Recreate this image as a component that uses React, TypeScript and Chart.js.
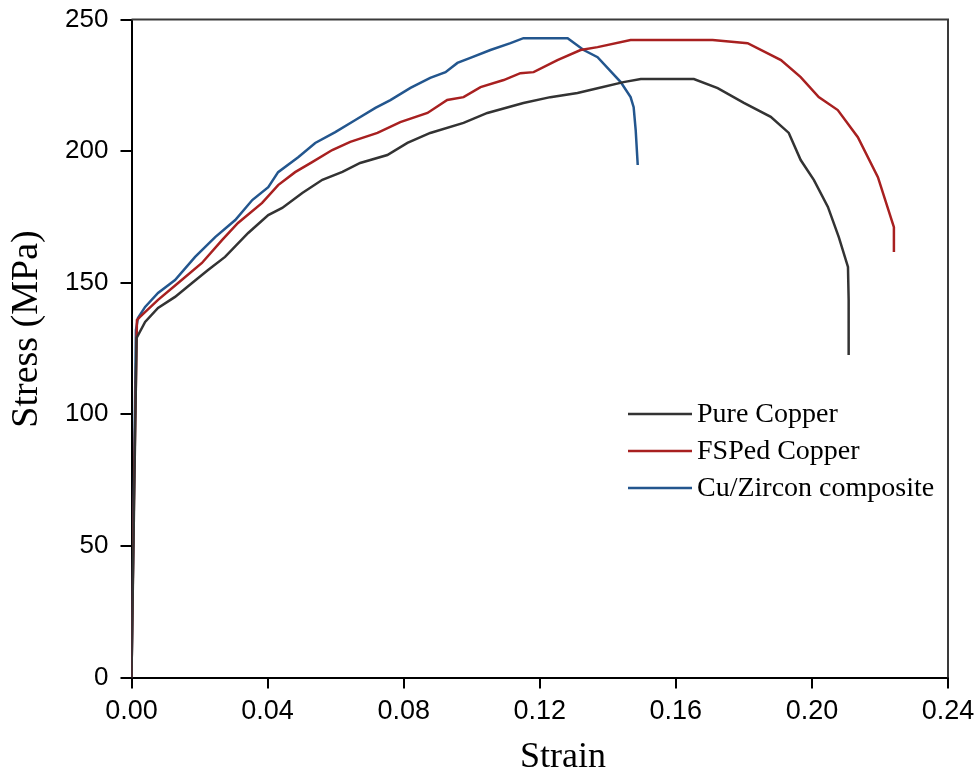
import React, { useEffect, useRef } from "react";
import { Chart, registerables } from "chart.js";

Chart.register(...registerables);

// ---- Data ----
const xTickValues = [0, 0.04, 0.08, 0.12, 0.16, 0.2, 0.24];
const yTickValues = [0, 50, 100, 150, 200, 250];
const seriesNames = ["Pure Copper", "FSPed Copper", "Cu/Zircon composite"];
const seriesColors = ["#333333", "#a82020", "#23568e"];
const xTitle = "Strain";
const yTitle = "Stress (MPa)";

const pureStrain = [0, 0.0008, 0.0015, 0.004, 0.0078, 0.0128, 0.0178, 0.0225, 0.0275, 0.0343, 0.0402, 0.0443, 0.0502, 0.0561, 0.062, 0.0672, 0.0752, 0.0811, 0.0878, 0.0976, 0.1046, 0.1152, 0.1231, 0.1311, 0.137, 0.1446, 0.1497, 0.1653, 0.1723, 0.18, 0.1879, 0.1932, 0.1967, 0.2006, 0.2047, 0.2079, 0.2106, 0.2108, 0.2108];
const pureStress = [0, 70, 129, 135.1, 140.4, 144.6, 149.9, 154.8, 159.8, 168.9, 175.7, 178.4, 184.1, 189.1, 192.1, 195.5, 198.5, 203.1, 206.9, 210.7, 214.5, 218.3, 220.5, 222.1, 223.9, 226.2, 227.4, 227.4, 223.9, 218.3, 213.0, 206.9, 196.6, 189.0, 178.8, 167.3, 156.0, 143.4, 122.5];

const fspStrain = [0, 0.0008, 0.0016, 0.0025, 0.0078, 0.0137, 0.0207, 0.0266, 0.0313, 0.0384, 0.0431, 0.0481, 0.0531, 0.059, 0.0643, 0.0723, 0.079, 0.087, 0.0928, 0.0976, 0.1026, 0.1094, 0.1143, 0.1182, 0.1252, 0.132, 0.137, 0.1467, 0.1708, 0.1811, 0.1909, 0.1967, 0.202, 0.2076, 0.2135, 0.2194, 0.2241, 0.2241];
const fspStress = [0, 75, 135.8, 137.0, 143.5, 149.9, 157.5, 166.2, 172.7, 180.3, 187.1, 192.0, 195.8, 200.4, 203.5, 206.9, 211.0, 214.5, 219.4, 220.5, 224.3, 227.0, 229.6, 230.0, 234.6, 238.4, 239.5, 242.2, 242.2, 241.0, 234.6, 228.1, 220.5, 215.6, 205.3, 190.1, 171.1, 161.7];

const zirStrain = [0, 0.0007, 0.0013, 0.0019, 0.004, 0.0078, 0.0128, 0.0187, 0.0246, 0.0305, 0.0355, 0.0402, 0.0431, 0.049, 0.054, 0.0599, 0.0658, 0.0717, 0.0761, 0.082, 0.0878, 0.0923, 0.0958, 0.0996, 0.1055, 0.1114, 0.1152, 0.1282, 0.1329, 0.137, 0.1438, 0.1467, 0.1476, 0.1482, 0.1488];
const zirStress = [0, 70, 132.0, 136.6, 140.8, 146.1, 151.0, 159.8, 167.3, 173.8, 181.4, 186.3, 192.0, 197.7, 203.1, 207.2, 211.8, 216.4, 219.4, 224.0, 227.8, 230.0, 233.5, 235.4, 238.4, 241.0, 242.9, 242.9, 238.4, 235.7, 226.2, 220.5, 216.7, 208.0, 194.7];

const allStrain = [pureStrain, fspStrain, zirStrain];
const allStress = [pureStress, fspStress, zirStress];

const SERIF = "'Liberation Serif', 'Times New Roman', serif";
const SANS = "'Liberation Sans', Arial, sans-serif";

const framePlugin = {
  id: "frame",
  afterDraw(chart: any) {
    const { ctx, chartArea } = chart;
    const { left, right, top, bottom } = chartArea;
    ctx.save();
    // top and right borders of the box
    ctx.strokeStyle = "#3a3a3a";
    ctx.lineWidth = 2;
    ctx.beginPath();
    ctx.moveTo(left, top);
    ctx.lineTo(right, top);
    ctx.lineTo(right, bottom);
    ctx.stroke();

    // axis titles
    ctx.fillStyle = "#000";
    ctx.font = `36px ${SERIF}`;
    ctx.textAlign = "center";
    ctx.textBaseline = "alphabetic";
    ctx.fillText(xTitle, 563, 767);
    ctx.save();
    ctx.translate(37, 329);
    ctx.rotate(-Math.PI / 2);
    ctx.font = `38px ${SERIF}`;
    ctx.fillText(yTitle, 0, 0);
    ctx.restore();

    // legend
    const rowsY = [414, 451, 488];
    ctx.font = `28px ${SERIF}`;
    ctx.textAlign = "left";
    ctx.textBaseline = "middle";
    seriesNames.forEach((name, i) => {
      ctx.strokeStyle = seriesColors[i];
      ctx.lineWidth = 2.5;
      ctx.beginPath();
      ctx.moveTo(628, rowsY[i]);
      ctx.lineTo(692, rowsY[i]);
      ctx.stroke();
      ctx.fillStyle = "#000";
      ctx.fillText(name, 697, rowsY[i] + 1);
    });
    ctx.restore();
  },
};

const zeroPad = (scale: any) => {
  scale.paddingTop = 0;
  scale.paddingBottom = 0;
  scale.paddingLeft = 0;
  scale.paddingRight = 0;
};

export default function App() {
  const canvasRef = useRef<HTMLCanvasElement | null>(null);

  useEffect(() => {
    const canvas = canvasRef.current;
    if (!canvas) return;
    const datasets = seriesNames.map((name, i) => ({
      label: name,
      data: allStrain[i].map((x, j) => ({ x, y: allStress[i][j] })),
      borderColor: seriesColors[i],
      backgroundColor: seriesColors[i],
      borderWidth: 2.5,
      pointRadius: 0,
      tension: 0,
      fill: false,
    }));
    const chart = new Chart(canvas, {
      type: "line",
      data: { datasets },
      plugins: [framePlugin],
      options: {
        responsive: false,
        animation: false,
        devicePixelRatio: 1,
        layout: { padding: { left: 0, top: 19.5, right: 29, bottom: 0 } },
        plugins: { legend: { display: false }, tooltip: { enabled: false } },
        scales: {
          x: {
            type: "linear",
            min: 0,
            max: 0.24,
            afterBuildTicks: (scale: any) => {
              scale.ticks = xTickValues.map((v) => ({ value: v }));
            },
            afterFit: (scale: any) => {
              scale.height = 96.5;
              zeroPad(scale);
            },
            ticks: {
              autoSkip: false,
              maxRotation: 0,
              padding: 7,
              color: "#000",
              font: { family: SANS, size: 27 },
              callback: (v: any) => Number(v).toFixed(2),
            },
            grid: {
              drawOnChartArea: false,
              drawTicks: true,
              tickLength: 11,
              color: "#000",
              lineWidth: 2,
            },
            border: { display: true, color: "#000", width: 2 },
          },
          y: {
            type: "linear",
            min: 0,
            max: 250,
            afterBuildTicks: (scale: any) => {
              scale.ticks = yTickValues.map((v) => ({ value: v }));
            },
            afterFit: (scale: any) => {
              scale.width = 131.5;
              zeroPad(scale);
            },
            ticks: {
              autoSkip: false,
              padding: 12,
              color: "#000",
              font: { family: SANS, size: 26 },
              callback: (v: any) => String(v),
            },
            grid: {
              drawOnChartArea: false,
              drawTicks: true,
              tickLength: 11,
              color: "#000",
              lineWidth: 2,
            },
            border: { display: true, color: "#000", width: 2 },
          },
        },
      },
    });
    return () => chart.destroy();
  }, []);

  return (
    <div style={{ position: "absolute", left: 0, top: 0, width: 977, height: 774, background: "#fff" }}>
      <canvas ref={canvasRef} width={977} height={774} style={{ display: "block" }} />
    </div>
  );
}
